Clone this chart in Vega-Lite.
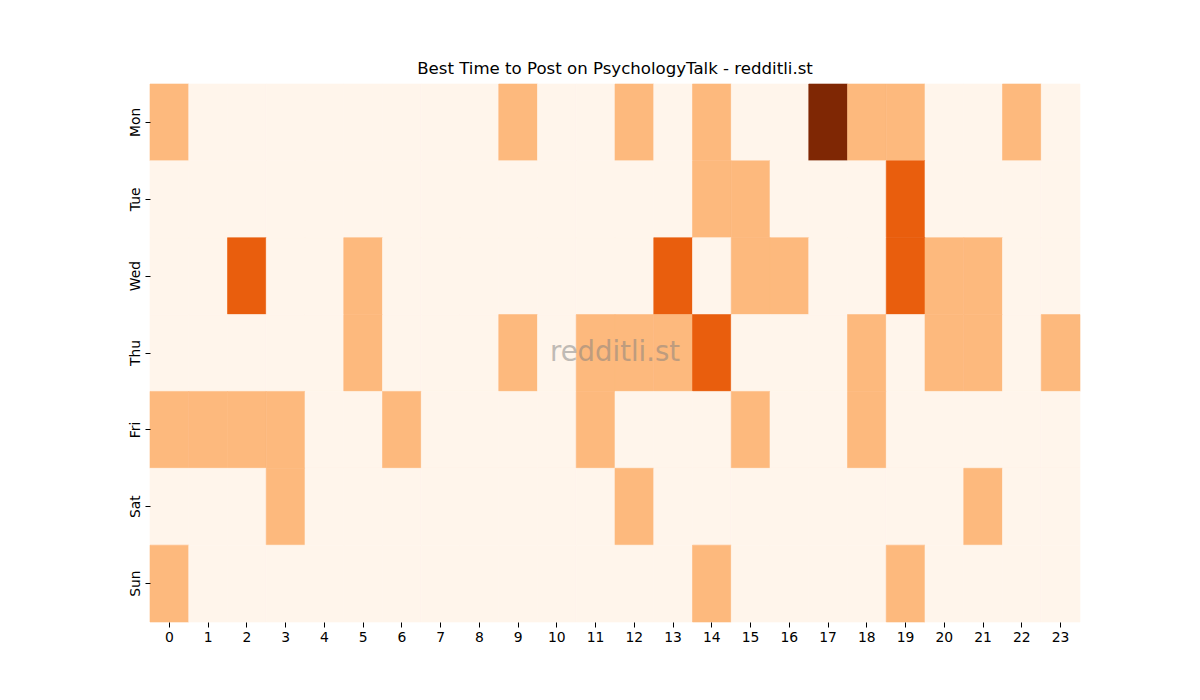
{
  "$schema": "https://vega.github.io/schema/vega-lite/v6.json",
  "autosize": "none",
  "width": 930,
  "height": 538,
  "padding": {"left": 150, "top": 84, "right": 120, "bottom": 78},
  "background": "white",
  "title": {
    "text": "Best Time to Post on PsychologyTalk - redditli.st",
    "font": "DejaVu Sans",
    "fontSize": 16.6,
    "fontWeight": "normal",
    "color": "black",
    "offset": 6
  },
  "config": {
    "view": {"stroke": null},
    "axis": {
      "labelFont": "DejaVu Sans",
      "labelFontSize": 13.9,
      "labelColor": "black",
      "tickColor": "black",
      "tickSize": 5,
      "domain": false,
      "grid": false,
      "title": null
    }
  },
  "data": {
    "values": [
      {"day": "Mon", "hour": 0, "count": 1}, {"day": "Mon", "hour": 1, "count": 0}, {"day": "Mon", "hour": 2, "count": 0}, {"day": "Mon", "hour": 3, "count": 0},
      {"day": "Mon", "hour": 4, "count": 0}, {"day": "Mon", "hour": 5, "count": 0}, {"day": "Mon", "hour": 6, "count": 0}, {"day": "Mon", "hour": 7, "count": 0},
      {"day": "Mon", "hour": 8, "count": 0}, {"day": "Mon", "hour": 9, "count": 1}, {"day": "Mon", "hour": 10, "count": 0}, {"day": "Mon", "hour": 11, "count": 0},
      {"day": "Mon", "hour": 12, "count": 1}, {"day": "Mon", "hour": 13, "count": 0}, {"day": "Mon", "hour": 14, "count": 1}, {"day": "Mon", "hour": 15, "count": 0},
      {"day": "Mon", "hour": 16, "count": 0}, {"day": "Mon", "hour": 17, "count": 3}, {"day": "Mon", "hour": 18, "count": 1}, {"day": "Mon", "hour": 19, "count": 1},
      {"day": "Mon", "hour": 20, "count": 0}, {"day": "Mon", "hour": 21, "count": 0}, {"day": "Mon", "hour": 22, "count": 1}, {"day": "Mon", "hour": 23, "count": 0},
      {"day": "Tue", "hour": 0, "count": 0}, {"day": "Tue", "hour": 1, "count": 0}, {"day": "Tue", "hour": 2, "count": 0}, {"day": "Tue", "hour": 3, "count": 0},
      {"day": "Tue", "hour": 4, "count": 0}, {"day": "Tue", "hour": 5, "count": 0}, {"day": "Tue", "hour": 6, "count": 0}, {"day": "Tue", "hour": 7, "count": 0},
      {"day": "Tue", "hour": 8, "count": 0}, {"day": "Tue", "hour": 9, "count": 0}, {"day": "Tue", "hour": 10, "count": 0}, {"day": "Tue", "hour": 11, "count": 0},
      {"day": "Tue", "hour": 12, "count": 0}, {"day": "Tue", "hour": 13, "count": 0}, {"day": "Tue", "hour": 14, "count": 1}, {"day": "Tue", "hour": 15, "count": 1},
      {"day": "Tue", "hour": 16, "count": 0}, {"day": "Tue", "hour": 17, "count": 0}, {"day": "Tue", "hour": 18, "count": 0}, {"day": "Tue", "hour": 19, "count": 2},
      {"day": "Tue", "hour": 20, "count": 0}, {"day": "Tue", "hour": 21, "count": 0}, {"day": "Tue", "hour": 22, "count": 0}, {"day": "Tue", "hour": 23, "count": 0},
      {"day": "Wed", "hour": 0, "count": 0}, {"day": "Wed", "hour": 1, "count": 0}, {"day": "Wed", "hour": 2, "count": 2}, {"day": "Wed", "hour": 3, "count": 0},
      {"day": "Wed", "hour": 4, "count": 0}, {"day": "Wed", "hour": 5, "count": 1}, {"day": "Wed", "hour": 6, "count": 0}, {"day": "Wed", "hour": 7, "count": 0},
      {"day": "Wed", "hour": 8, "count": 0}, {"day": "Wed", "hour": 9, "count": 0}, {"day": "Wed", "hour": 10, "count": 0}, {"day": "Wed", "hour": 11, "count": 0},
      {"day": "Wed", "hour": 12, "count": 0}, {"day": "Wed", "hour": 13, "count": 2}, {"day": "Wed", "hour": 14, "count": 0}, {"day": "Wed", "hour": 15, "count": 1},
      {"day": "Wed", "hour": 16, "count": 1}, {"day": "Wed", "hour": 17, "count": 0}, {"day": "Wed", "hour": 18, "count": 0}, {"day": "Wed", "hour": 19, "count": 2},
      {"day": "Wed", "hour": 20, "count": 1}, {"day": "Wed", "hour": 21, "count": 1}, {"day": "Wed", "hour": 22, "count": 0}, {"day": "Wed", "hour": 23, "count": 0},
      {"day": "Thu", "hour": 0, "count": 0}, {"day": "Thu", "hour": 1, "count": 0}, {"day": "Thu", "hour": 2, "count": 0}, {"day": "Thu", "hour": 3, "count": 0},
      {"day": "Thu", "hour": 4, "count": 0}, {"day": "Thu", "hour": 5, "count": 1}, {"day": "Thu", "hour": 6, "count": 0}, {"day": "Thu", "hour": 7, "count": 0},
      {"day": "Thu", "hour": 8, "count": 0}, {"day": "Thu", "hour": 9, "count": 1}, {"day": "Thu", "hour": 10, "count": 0}, {"day": "Thu", "hour": 11, "count": 1},
      {"day": "Thu", "hour": 12, "count": 1}, {"day": "Thu", "hour": 13, "count": 1}, {"day": "Thu", "hour": 14, "count": 2}, {"day": "Thu", "hour": 15, "count": 0},
      {"day": "Thu", "hour": 16, "count": 0}, {"day": "Thu", "hour": 17, "count": 0}, {"day": "Thu", "hour": 18, "count": 1}, {"day": "Thu", "hour": 19, "count": 0},
      {"day": "Thu", "hour": 20, "count": 1}, {"day": "Thu", "hour": 21, "count": 1}, {"day": "Thu", "hour": 22, "count": 0}, {"day": "Thu", "hour": 23, "count": 1},
      {"day": "Fri", "hour": 0, "count": 1}, {"day": "Fri", "hour": 1, "count": 1}, {"day": "Fri", "hour": 2, "count": 1}, {"day": "Fri", "hour": 3, "count": 1},
      {"day": "Fri", "hour": 4, "count": 0}, {"day": "Fri", "hour": 5, "count": 0}, {"day": "Fri", "hour": 6, "count": 1}, {"day": "Fri", "hour": 7, "count": 0},
      {"day": "Fri", "hour": 8, "count": 0}, {"day": "Fri", "hour": 9, "count": 0}, {"day": "Fri", "hour": 10, "count": 0}, {"day": "Fri", "hour": 11, "count": 1},
      {"day": "Fri", "hour": 12, "count": 0}, {"day": "Fri", "hour": 13, "count": 0}, {"day": "Fri", "hour": 14, "count": 0}, {"day": "Fri", "hour": 15, "count": 1},
      {"day": "Fri", "hour": 16, "count": 0}, {"day": "Fri", "hour": 17, "count": 0}, {"day": "Fri", "hour": 18, "count": 1}, {"day": "Fri", "hour": 19, "count": 0},
      {"day": "Fri", "hour": 20, "count": 0}, {"day": "Fri", "hour": 21, "count": 0}, {"day": "Fri", "hour": 22, "count": 0}, {"day": "Fri", "hour": 23, "count": 0},
      {"day": "Sat", "hour": 0, "count": 0}, {"day": "Sat", "hour": 1, "count": 0}, {"day": "Sat", "hour": 2, "count": 0}, {"day": "Sat", "hour": 3, "count": 1},
      {"day": "Sat", "hour": 4, "count": 0}, {"day": "Sat", "hour": 5, "count": 0}, {"day": "Sat", "hour": 6, "count": 0}, {"day": "Sat", "hour": 7, "count": 0},
      {"day": "Sat", "hour": 8, "count": 0}, {"day": "Sat", "hour": 9, "count": 0}, {"day": "Sat", "hour": 10, "count": 0}, {"day": "Sat", "hour": 11, "count": 0},
      {"day": "Sat", "hour": 12, "count": 1}, {"day": "Sat", "hour": 13, "count": 0}, {"day": "Sat", "hour": 14, "count": 0}, {"day": "Sat", "hour": 15, "count": 0},
      {"day": "Sat", "hour": 16, "count": 0}, {"day": "Sat", "hour": 17, "count": 0}, {"day": "Sat", "hour": 18, "count": 0}, {"day": "Sat", "hour": 19, "count": 0},
      {"day": "Sat", "hour": 20, "count": 0}, {"day": "Sat", "hour": 21, "count": 1}, {"day": "Sat", "hour": 22, "count": 0}, {"day": "Sat", "hour": 23, "count": 0},
      {"day": "Sun", "hour": 0, "count": 1}, {"day": "Sun", "hour": 1, "count": 0}, {"day": "Sun", "hour": 2, "count": 0}, {"day": "Sun", "hour": 3, "count": 0},
      {"day": "Sun", "hour": 4, "count": 0}, {"day": "Sun", "hour": 5, "count": 0}, {"day": "Sun", "hour": 6, "count": 0}, {"day": "Sun", "hour": 7, "count": 0},
      {"day": "Sun", "hour": 8, "count": 0}, {"day": "Sun", "hour": 9, "count": 0}, {"day": "Sun", "hour": 10, "count": 0}, {"day": "Sun", "hour": 11, "count": 0},
      {"day": "Sun", "hour": 12, "count": 0}, {"day": "Sun", "hour": 13, "count": 0}, {"day": "Sun", "hour": 14, "count": 1}, {"day": "Sun", "hour": 15, "count": 0},
      {"day": "Sun", "hour": 16, "count": 0}, {"day": "Sun", "hour": 17, "count": 0}, {"day": "Sun", "hour": 18, "count": 0}, {"day": "Sun", "hour": 19, "count": 1},
      {"day": "Sun", "hour": 20, "count": 0}, {"day": "Sun", "hour": 21, "count": 0}, {"day": "Sun", "hour": 22, "count": 0}, {"day": "Sun", "hour": 23, "count": 0}
    ]
  },
  "encoding": {
    "x": {
      "field": "hour",
      "type": "ordinal",
      "scale": {"paddingInner": 0, "paddingOuter": 0},
      "axis": {"labelAngle": 0, "labelPadding": 3}
    },
    "y": {
      "field": "day",
      "type": "ordinal",
      "sort": ["Mon", "Tue", "Wed", "Thu", "Fri", "Sat", "Sun"],
      "scale": {"paddingInner": 0, "paddingOuter": 0},
      "axis": {"labelAngle": -90, "labelPadding": 3}
    }
  },
  "layer": [
    {
      "mark": {"type": "rect", "strokeWidth": 0.6},
      "encoding": {
        "color": {
          "field": "count",
          "type": "ordinal",
          "scale": {"domain": [0, 1, 2, 3], "range": ["#fff5eb", "#fdb97d", "#e95e0d", "#7f2704"]},
          "legend": null
        },
        "stroke": {
          "field": "count",
          "type": "ordinal",
          "scale": {"domain": [0, 1, 2, 3], "range": ["#fff5eb", "#fdb97d", "#e95e0d", "#7f2704"]},
          "legend": null
        }
      }
    },
    {
      "data": {"values": [{"label": "redditli.st", "hour": 11, "day": "Thu"}]},
      "mark": {
        "type": "text",
        "font": "DejaVu Sans",
        "fontSize": 27.5,
        "color": "gray",
        "opacity": 0.5,
        "align": "center",
        "baseline": "middle"
      },
      "encoding": {
        "x": {"field": "hour", "type": "ordinal", "bandPosition": 1},
        "text": {"field": "label"}
      }
    }
  ]
}
